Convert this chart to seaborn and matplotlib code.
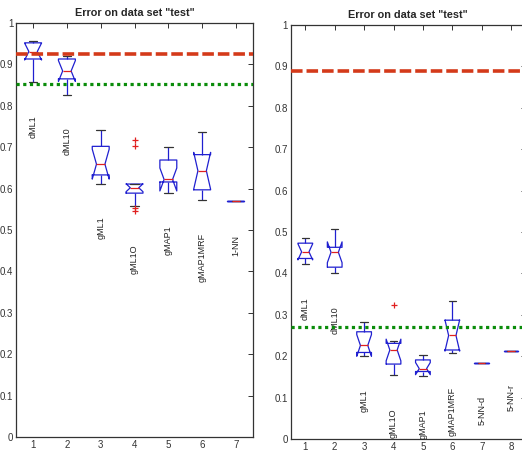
import pandas as pd
import seaborn as sns
import matplotlib.pyplot as plt

# Error of each method over repeated runs
left_methods = ["dML1", "dML10", "gML1", "gML1O", "gMAP1", "gMAP1MRF", "1-NN"]
left_errors = [
    [0.857, 0.905, 0.913, 0.922, 0.931, 0.944, 0.952, 0.954, 0.956],
    [0.827, 0.851, 0.865, 0.874, 0.884, 0.896, 0.913, 0.917, 0.920],
    [0.612, 0.624, 0.633, 0.648, 0.659, 0.684, 0.702, 0.721, 0.742],
    [0.546, 0.553, 0.558, 0.589, 0.594, 0.598, 0.602, 0.605, 0.608, 0.611, 0.611, 0.703, 0.717],
    [0.590, 0.605, 0.616, 0.619, 0.622, 0.645, 0.669, 0.685, 0.701],
    [0.572, 0.585, 0.597, 0.620, 0.643, 0.662, 0.682, 0.710, 0.736],
    [0.569, 0.569, 0.569, 0.569, 0.569, 0.569, 0.569, 0.569, 0.569],
]
left_ref_dashed = 0.925
left_ref_dotted = 0.852

right_methods = ["dML1", "dML10", "gML1", "gML1O", "gMAP1", "gMAP1MRF", "5-NN-d", "5-NN-r"]
right_errors = [
    [0.423, 0.430, 0.436, 0.444, 0.452, 0.463, 0.473, 0.479, 0.485],
    [0.400, 0.408, 0.415, 0.437, 0.451, 0.457, 0.463, 0.485, 0.506],
    [0.200, 0.204, 0.209, 0.218, 0.226, 0.243, 0.259, 0.271, 0.282],
    [0.154, 0.168, 0.181, 0.199, 0.215, 0.226, 0.231, 0.237, 0.324],
    [0.151, 0.157, 0.163, 0.166, 0.170, 0.181, 0.191, 0.198, 0.204],
    [0.207, 0.211, 0.215, 0.232, 0.250, 0.268, 0.287, 0.318, 0.333],
    [0.184, 0.184, 0.184, 0.184, 0.184, 0.184, 0.184, 0.184, 0.184],
    [0.213, 0.213, 0.213, 0.213, 0.213, 0.213, 0.213, 0.213, 0.213],
]
right_ref_dashed = 0.889
right_ref_dotted = 0.270

y_ticks = [0, 0.1, 0.2, 0.3, 0.4, 0.5, 0.6, 0.7, 0.8, 0.9, 1]
y_ticklabels = ["0", "0.1", "0.2", "0.3", "0.4", "0.5", "0.6", "0.7", "0.8", "0.9", "1"]

sns.set_style("white")
plt.rcParams["font.family"] = ["Liberation Sans", "DejaVu Sans"]


def to_frame(methods, errors):
    rows = []
    for i, (m, vals) in enumerate(zip(methods, errors)):
        for v in vals:
            rows.append({"pos": i + 1, "method": m, "error": v})
    return pd.DataFrame(rows)


def draw_panel(ax, methods, errors, dashed, dotted):
    df = to_frame(methods, errors)
    sns.boxplot(data=df, x="pos", y="error", native_scale=True, ax=ax,
                width=0.5, fill=False, notch=True, linewidth=0.9,
                boxprops={"color": "#2020d0"},
                whiskerprops={"color": "#2020d0"},
                capprops={"color": "#333333"},
                medianprops={"color": "#e02020"},
                flierprops={"marker": "+", "markeredgecolor": "#e02020",
                            "markersize": 5, "markeredgewidth": 0.9})
    ax.axhline(dashed, color="#d43a1a", lw=2.6, dashes=(3.2, 1.1), zorder=5)
    ax.axhline(dotted, color="#0a8c0a", lw=2.3, dashes=(1, 1.1), zorder=5)
    for i, (m, vals) in enumerate(zip(methods, errors)):
        ax.text(i + 1, min(vals) - 0.08, m, rotation=90, ha="center", va="top",
                fontsize=6.5, color="#222222")
    n = len(methods)
    ax.set_xlim(0.5, n + 0.5)
    ax.set_ylim(0, 1)
    ax.set_xticks(range(1, n + 1))
    ax.set_xticklabels([str(k) for k in range(1, n + 1)])
    ax.set_yticks(y_ticks)
    ax.set_yticklabels(y_ticklabels)
    ax.set_xlabel("")
    ax.set_ylabel("")
    ax.tick_params(direction="in", length=3.5, width=0.7, labelsize=7,
                   top=True, right=True, pad=2, colors="#333333")
    for s in ax.spines.values():
        s.set_color("#333333")
        s.set_linewidth(0.9)
    ax.set_title('Error on data set "test"', fontsize=7.8, fontweight="bold", pad=5)


fig = plt.figure(figsize=(5.22, 4.53), dpi=100)
ax1 = fig.add_axes([0.031, 0.0353, 0.4534, 0.914])
ax2 = fig.add_axes([0.5567, 0.0309, 0.4506, 0.914])

draw_panel(ax1, left_methods, left_errors, left_ref_dashed, left_ref_dotted)
draw_panel(ax2, right_methods, right_errors, right_ref_dashed, right_ref_dotted)

fig.savefig("out.png", dpi=100)
